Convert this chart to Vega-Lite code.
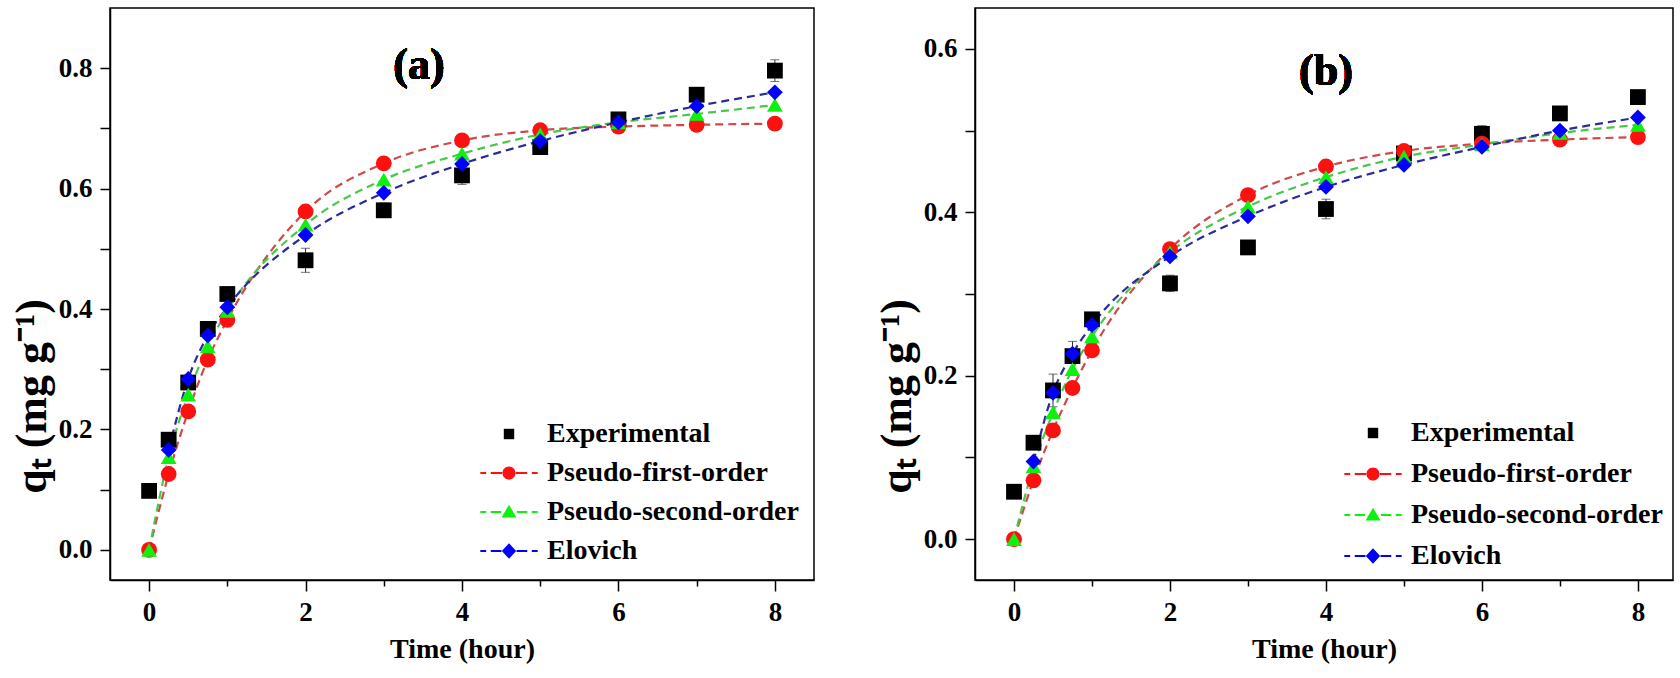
{
  "$schema": "https://vega.github.io/schema/vega-lite/v6.json",
  "background": "white",
  "padding": {"left": 9, "top": 7, "right": 0, "bottom": 0},
  "bounds": "flush",
  "spacing": 161,
  "datasets": {
    "a": [
      {"t": 0, "q": 0.098, "e": 0.004, "series": "Experimental"},
      {"t": 0.25, "q": 0.183, "e": 0.006, "series": "Experimental"},
      {"t": 0.5, "q": 0.278, "e": 0.008, "series": "Experimental"},
      {"t": 0.75, "q": 0.367, "e": 0.01, "series": "Experimental"},
      {"t": 1, "q": 0.425, "e": 0.008, "series": "Experimental"},
      {"t": 2, "q": 0.481, "e": 0.02, "series": "Experimental"},
      {"t": 3, "q": 0.564, "e": 0.012, "series": "Experimental"},
      {"t": 4, "q": 0.622, "e": 0.015, "series": "Experimental"},
      {"t": 5, "q": 0.669, "e": 0.008, "series": "Experimental"},
      {"t": 6, "q": 0.715, "e": 0.006, "series": "Experimental"},
      {"t": 7, "q": 0.756, "e": 0.006, "series": "Experimental"},
      {"t": 8, "q": 0.796, "e": 0.018, "series": "Experimental"},
      {"t": 0, "q": 0, "series": "Pseudo-first-order"},
      {"t": 0.25, "q": 0.126, "series": "Pseudo-first-order"},
      {"t": 0.5, "q": 0.23, "series": "Pseudo-first-order"},
      {"t": 0.75, "q": 0.316, "series": "Pseudo-first-order"},
      {"t": 1, "q": 0.382, "series": "Pseudo-first-order"},
      {"t": 2, "q": 0.562, "series": "Pseudo-first-order"},
      {"t": 3, "q": 0.642, "series": "Pseudo-first-order"},
      {"t": 4, "q": 0.68, "series": "Pseudo-first-order"},
      {"t": 5, "q": 0.697, "series": "Pseudo-first-order"},
      {"t": 6, "q": 0.703, "series": "Pseudo-first-order"},
      {"t": 7, "q": 0.706, "series": "Pseudo-first-order"},
      {"t": 8, "q": 0.708, "series": "Pseudo-first-order"},
      {"t": 0, "q": 0, "series": "Pseudo-second-order"},
      {"t": 0.25, "q": 0.154, "series": "Pseudo-second-order"},
      {"t": 0.5, "q": 0.258, "series": "Pseudo-second-order"},
      {"t": 0.75, "q": 0.338, "series": "Pseudo-second-order"},
      {"t": 1, "q": 0.397, "series": "Pseudo-second-order"},
      {"t": 2, "q": 0.54, "series": "Pseudo-second-order"},
      {"t": 3, "q": 0.615, "series": "Pseudo-second-order"},
      {"t": 4, "q": 0.658, "series": "Pseudo-second-order"},
      {"t": 5, "q": 0.69, "series": "Pseudo-second-order"},
      {"t": 6, "q": 0.71, "series": "Pseudo-second-order"},
      {"t": 7, "q": 0.724, "series": "Pseudo-second-order"},
      {"t": 8, "q": 0.739, "series": "Pseudo-second-order"},
      {"t": 0.25, "q": 0.166, "series": "Elovich"},
      {"t": 0.5, "q": 0.284, "series": "Elovich"},
      {"t": 0.75, "q": 0.356, "series": "Elovich"},
      {"t": 1, "q": 0.403, "series": "Elovich"},
      {"t": 2, "q": 0.523, "series": "Elovich"},
      {"t": 3, "q": 0.593, "series": "Elovich"},
      {"t": 4, "q": 0.641, "series": "Elovich"},
      {"t": 5, "q": 0.679, "series": "Elovich"},
      {"t": 6, "q": 0.71, "series": "Elovich"},
      {"t": 7, "q": 0.737, "series": "Elovich"},
      {"t": 8, "q": 0.76, "series": "Elovich"}
    ],
    "b": [
      {"t": 0, "q": 0.058, "e": 0.008, "series": "Experimental"},
      {"t": 0.25, "q": 0.118, "e": 0.004, "series": "Experimental"},
      {"t": 0.5, "q": 0.182, "e": 0.02, "series": "Experimental"},
      {"t": 0.75, "q": 0.224, "e": 0.018, "series": "Experimental"},
      {"t": 1, "q": 0.269, "e": 0.006, "series": "Experimental"},
      {"t": 2, "q": 0.313, "e": 0.01, "series": "Experimental"},
      {"t": 3, "q": 0.357, "e": 0.004, "series": "Experimental"},
      {"t": 4, "q": 0.404, "e": 0.012, "series": "Experimental"},
      {"t": 5, "q": 0.472, "e": 0.005, "series": "Experimental"},
      {"t": 6, "q": 0.496, "e": 0.01, "series": "Experimental"},
      {"t": 7, "q": 0.521, "e": 0.005, "series": "Experimental"},
      {"t": 8, "q": 0.541, "e": 0.005, "series": "Experimental"},
      {"t": 0, "q": 0, "series": "Pseudo-first-order"},
      {"t": 0.25, "q": 0.072, "series": "Pseudo-first-order"},
      {"t": 0.5, "q": 0.133, "series": "Pseudo-first-order"},
      {"t": 0.75, "q": 0.185, "series": "Pseudo-first-order"},
      {"t": 1, "q": 0.231, "series": "Pseudo-first-order"},
      {"t": 2, "q": 0.355, "series": "Pseudo-first-order"},
      {"t": 3, "q": 0.421, "series": "Pseudo-first-order"},
      {"t": 4, "q": 0.456, "series": "Pseudo-first-order"},
      {"t": 5, "q": 0.475, "series": "Pseudo-first-order"},
      {"t": 6, "q": 0.484, "series": "Pseudo-first-order"},
      {"t": 7, "q": 0.489, "series": "Pseudo-first-order"},
      {"t": 8, "q": 0.492, "series": "Pseudo-first-order"},
      {"t": 0, "q": 0, "series": "Pseudo-second-order"},
      {"t": 0.25, "q": 0.089, "series": "Pseudo-second-order"},
      {"t": 0.5, "q": 0.155, "series": "Pseudo-second-order"},
      {"t": 0.75, "q": 0.208, "series": "Pseudo-second-order"},
      {"t": 1, "q": 0.248, "series": "Pseudo-second-order"},
      {"t": 2, "q": 0.351, "series": "Pseudo-second-order"},
      {"t": 3, "q": 0.407, "series": "Pseudo-second-order"},
      {"t": 4, "q": 0.443, "series": "Pseudo-second-order"},
      {"t": 5, "q": 0.468, "series": "Pseudo-second-order"},
      {"t": 6, "q": 0.483, "series": "Pseudo-second-order"},
      {"t": 7, "q": 0.497, "series": "Pseudo-second-order"},
      {"t": 8, "q": 0.507, "series": "Pseudo-second-order"},
      {"t": 0.25, "q": 0.095, "series": "Elovich"},
      {"t": 0.5, "q": 0.179, "series": "Elovich"},
      {"t": 0.75, "q": 0.227, "series": "Elovich"},
      {"t": 1, "q": 0.262, "series": "Elovich"},
      {"t": 2, "q": 0.346, "series": "Elovich"},
      {"t": 3, "q": 0.395, "series": "Elovich"},
      {"t": 4, "q": 0.431, "series": "Elovich"},
      {"t": 5, "q": 0.458, "series": "Elovich"},
      {"t": 6, "q": 0.48, "series": "Elovich"},
      {"t": 7, "q": 0.5, "series": "Elovich"},
      {"t": 8, "q": 0.516, "series": "Elovich"}
    ]
  },
  "hconcat": [
    {
      "width": 704,
      "height": 572,
      "data": {"name": "a"},
      "encoding": {
        "x": {"field": "t", "type": "quantitative", "scale": {"domain": [-0.5, 8.5], "nice": false, "zero": false},
          "axis": {"title": "Time (hour)", "values": [0, 1, 2, 3, 4, 5, 6, 7, 8], "labelExpr": "datum.value % 2 === 0 ? datum.label : ''",
            "tickSize": {"condition": {"test": "datum.value % 2 === 0", "value": 11}, "value": 6}}},
        "y": {"field": "q", "type": "quantitative", "scale": {"domain": [-0.05, 0.9], "nice": false, "zero": false},
          "axis": {"title": "qₜ (mg g⁻¹)", "titleY": 388, "values": [0, 0.1, 0.2, 0.3, 0.4, 0.5, 0.6, 0.7, 0.8], "labelExpr": "round(datum.value * 10) % 2 === 0 ? format(datum.value, '.1f') : ''"}}
      },
      "layer": [
        {
          "transform": [{"filter": "datum.series !== 'Experimental'"}],
          "mark": {"type": "line", "interpolate": "monotone", "strokeDash": [8, 5], "strokeWidth": 2.2},
          "encoding": {
            "stroke": {"field": "series", "type": "nominal", "scale": {"domain": ["Pseudo-first-order", "Pseudo-second-order", "Elovich"], "range": ["#d04848", "#48c848", "#2a2a9c"]}, "legend": null}
          }
        },
        {
          "transform": [{"filter": "datum.series === 'Experimental'"}],
          "mark": {"type": "errorbar", "ticks": {"size": 9, "color": "#333333", "strokeWidth": 1}, "color": "#333333", "thickness": 1},
          "encoding": {"yError": {"field": "e"}}
        },
        {
          "mark": {"type": "point", "filled": true, "size": 250, "opacity": 1, "strokeWidth": 0},
          "encoding": {
            "fill": {"field": "series", "type": "nominal",
              "scale": {"domain": ["Experimental", "Pseudo-first-order", "Pseudo-second-order", "Elovich"], "range": ["#000000", "#ff1010", "#10f010", "#0000ff"]},
              "legend": null},
            "shape": {"field": "series", "type": "nominal",
              "scale": {"domain": ["Experimental", "Pseudo-first-order", "Pseudo-second-order", "Elovich"], "range": ["square", "circle", "triangle-up", "diamond"]},
              "legend": null}
          }
        },
        {
          "transform": [{"filter": "false"}],
          "mark": {"type": "point", "filled": true, "opacity": 1, "strokeWidth": 0},
          "encoding": {
            "fill": {"field": "series", "type": "nominal",
              "scale": {"domain": ["Experimental", "Pseudo-first-order", "Pseudo-second-order", "Elovich"], "range": ["#000000", "#ff1010", "#10f010", "#0000ff"]},
              "legend": {"orient": "bottom-right", "offset": 15, "title": null, "padding": 0, "symbolSize": 170, "labelOffset": 24, "rowPadding": 11, "labelLimit": 500, "symbolStrokeWidth": 0}},
            "shape": {"field": "series", "type": "nominal",
              "scale": {"domain": ["Experimental", "Pseudo-first-order", "Pseudo-second-order", "Elovich"],
                "range": [
                  "M-0.8,-0.8H0.8V0.8H-0.8Z",
                  "M-4.4,-0.15H-3.5V0.15H-4.4Z M-2.8,-0.15H-1.05V0.15H-2.8Z M1.05,-0.15H2.8V0.15H1.05Z M3.5,-0.15H4.4V0.15H3.5Z M-1,0A1,1,0,1,0,1,0A1,1,0,1,0,-1,0Z",
                  "M-4.4,-0.15H-3.5V0.15H-4.4Z M-2.8,-0.15H-1.2V0.15H-2.8Z M1.2,-0.15H2.8V0.15H1.2Z M3.5,-0.15H4.4V0.15H3.5Z M0,-1.1L1.15,0.85L-1.15,0.85Z",
                  "M-4.4,-0.15H-3.5V0.15H-4.4Z M-2.8,-0.15H-1.15V0.15H-2.8Z M1.15,-0.15H2.8V0.15H1.15Z M3.5,-0.15H4.4V0.15H3.5Z M0,-1.2L1.1,0L0,1.2L-1.1,0Z"
                ]},
              "legend": {"orient": "bottom-right", "offset": 15, "title": null, "padding": 0, "symbolSize": 170, "labelOffset": 24, "rowPadding": 11, "labelLimit": 500, "symbolStrokeWidth": 0}}
          }
        },
        {
          "mark": {"type": "text", "font": "Liberation Serif", "fontWeight": "bold", "fontSize": 44, "color": "black"},
          "encoding": {"x": {"datum": 3.45}, "y": {"datum": 0.803}, "text": {"value": "(a)"}}
        }
      ],
      "resolve": {"scale": {"fill": "independent", "shape": "independent"}, "legend": {"fill": "independent", "shape": "independent"}}
    },
    {
      "width": 698,
      "height": 572,
      "data": {"name": "b"},
      "encoding": {
        "x": {"field": "t", "type": "quantitative", "scale": {"domain": [-0.5, 8.45], "nice": false, "zero": false},
          "axis": {"title": "Time (hour)", "values": [0, 1, 2, 3, 4, 5, 6, 7, 8], "labelExpr": "datum.value % 2 === 0 ? datum.label : ''",
            "tickSize": {"condition": {"test": "datum.value % 2 === 0", "value": 11}, "value": 6}}},
        "y": {"field": "q", "type": "quantitative", "scale": {"domain": [-0.05, 0.65], "nice": false, "zero": false},
          "axis": {"title": "qₜ (mg g⁻¹)", "titleY": 388, "values": [0, 0.1, 0.2, 0.3, 0.4, 0.5, 0.6], "labelExpr": "round(datum.value * 10) % 2 === 0 ? format(datum.value, '.1f') : ''"}}
      },
      "layer": [
        {
          "transform": [{"filter": "datum.series !== 'Experimental'"}],
          "mark": {"type": "line", "interpolate": "monotone", "strokeDash": [8, 5], "strokeWidth": 2.2},
          "encoding": {
            "stroke": {"field": "series", "type": "nominal", "scale": {"domain": ["Pseudo-first-order", "Pseudo-second-order", "Elovich"], "range": ["#d04848", "#48c848", "#2a2a9c"]}, "legend": null}
          }
        },
        {
          "transform": [{"filter": "datum.series === 'Experimental'"}],
          "mark": {"type": "errorbar", "ticks": {"size": 9, "color": "#333333", "strokeWidth": 1}, "color": "#333333", "thickness": 1},
          "encoding": {"yError": {"field": "e"}}
        },
        {
          "mark": {"type": "point", "filled": true, "size": 250, "opacity": 1, "strokeWidth": 0},
          "encoding": {
            "fill": {"field": "series", "type": "nominal",
              "scale": {"domain": ["Experimental", "Pseudo-first-order", "Pseudo-second-order", "Elovich"], "range": ["#000000", "#ff1010", "#10f010", "#0000ff"]},
              "legend": null},
            "shape": {"field": "series", "type": "nominal",
              "scale": {"domain": ["Experimental", "Pseudo-first-order", "Pseudo-second-order", "Elovich"], "range": ["square", "circle", "triangle-up", "diamond"]},
              "legend": null}
          }
        },
        {
          "transform": [{"filter": "false"}],
          "mark": {"type": "point", "filled": true, "opacity": 1, "strokeWidth": 0},
          "encoding": {
            "fill": {"field": "series", "type": "nominal",
              "scale": {"domain": ["Experimental", "Pseudo-first-order", "Pseudo-second-order", "Elovich"], "range": ["#000000", "#ff1010", "#10f010", "#0000ff"]},
              "legend": {"orient": "bottom-right", "offset": 10, "title": null, "padding": 0, "symbolSize": 170, "labelOffset": 24, "rowPadding": 13, "labelLimit": 500, "symbolStrokeWidth": 0}},
            "shape": {"field": "series", "type": "nominal",
              "scale": {"domain": ["Experimental", "Pseudo-first-order", "Pseudo-second-order", "Elovich"],
                "range": [
                  "M-0.8,-0.8H0.8V0.8H-0.8Z",
                  "M-4.4,-0.15H-3.5V0.15H-4.4Z M-2.8,-0.15H-1.05V0.15H-2.8Z M1.05,-0.15H2.8V0.15H1.05Z M3.5,-0.15H4.4V0.15H3.5Z M-1,0A1,1,0,1,0,1,0A1,1,0,1,0,-1,0Z",
                  "M-4.4,-0.15H-3.5V0.15H-4.4Z M-2.8,-0.15H-1.2V0.15H-2.8Z M1.2,-0.15H2.8V0.15H1.2Z M3.5,-0.15H4.4V0.15H3.5Z M0,-1.1L1.15,0.85L-1.15,0.85Z",
                  "M-4.4,-0.15H-3.5V0.15H-4.4Z M-2.8,-0.15H-1.15V0.15H-2.8Z M1.15,-0.15H2.8V0.15H1.15Z M3.5,-0.15H4.4V0.15H3.5Z M0,-1.2L1.1,0L0,1.2L-1.1,0Z"
                ]},
              "legend": {"orient": "bottom-right", "offset": 10, "title": null, "padding": 0, "symbolSize": 170, "labelOffset": 24, "rowPadding": 13, "labelLimit": 500, "symbolStrokeWidth": 0}}
          }
        },
        {
          "mark": {"type": "text", "font": "Liberation Serif", "fontWeight": "bold", "fontSize": 44, "color": "black"},
          "encoding": {"x": {"datum": 4.0}, "y": {"datum": 0.572}, "text": {"value": "(b)"}}
        }
      ],
      "resolve": {"scale": {"fill": "independent", "shape": "independent"}, "legend": {"fill": "independent", "shape": "independent"}}
    }
  ],
  "resolve": {
    "scale": {"x": "independent", "y": "independent", "fill": "independent", "shape": "independent", "stroke": "independent"},
    "legend": {"fill": "independent", "shape": "independent"}
  },
  "config": {
    "view": {"stroke": "black", "strokeWidth": 1.5},
    "axis": {
      "grid": false,
      "domainColor": "black", "domainWidth": 1.5,
      "tickColor": "black", "tickWidth": 1.5, "tickSize": 10,
      "labelFont": "Liberation Serif", "labelFontWeight": "bold", "labelFontSize": 27, "labelColor": "black", "labelPadding": 8, "labelOverlap": false, "labelFlush": false,
      "titleFont": "Liberation Serif", "titleFontWeight": "bold", "titleFontSize": 28, "titleColor": "black", "titlePadding": 10
    },
    "axisY": {"titleFontSize": 44, "titlePadding": 4},
    "legend": {"labelFont": "Liberation Serif", "labelFontWeight": "bold", "labelFontSize": 28, "labelColor": "black"}
  }
}
